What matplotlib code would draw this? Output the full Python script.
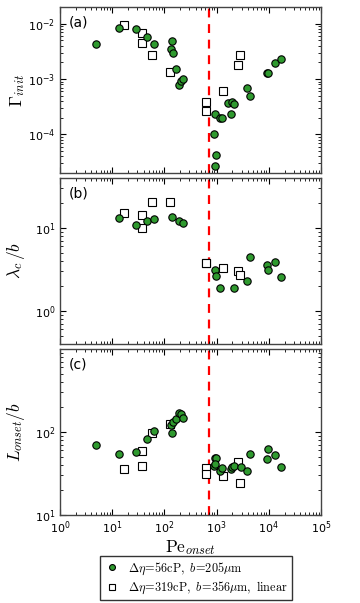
import numpy as np
import matplotlib
matplotlib.use('Agg')
import matplotlib.pyplot as plt
from matplotlib.ticker import LogLocator, NullFormatter

plt.rcParams['mathtext.fontset'] = 'cm'
plt.rcParams['font.family'] = 'DejaVu Sans'

# Pe_onset threshold (red dashed line)
pe_crit = 700

# ---- panel (a): Gamma_init ----
a_green_x = [4.9, 13.7, 28, 47, 63, 138, 136, 146, 167, 190, 211, 231,
             918, 879, 975, 931, 1178, 1288, 1680, 2000, 2153, 1916,
             3770, 4365, 9100, 9660, 13150, 16870]
a_green_y = [4.3e-3, 8.2e-3, 8.1e-3, 5.7e-3, 4.3e-3, 4.8e-3, 3.5e-3, 2.9e-3, 1.5e-3, 7.8e-4, 9.3e-4, 1.0e-3,
             2.3e-4, 1.0e-4, 4.2e-5, 2.7e-5, 2.0e-4, 2.0e-4, 3.7e-4, 3.9e-4, 3.6e-4, 2.3e-4,
             6.8e-4, 4.9e-4, 1.27e-3, 1.28e-3, 1.93e-3, 2.34e-3]
a_sq_x = [16.6, 38, 37, 59, 126, 617, 617, 1327, 2535, 2806]
a_sq_y = [9.3e-3, 6.7e-3, 4.45e-3, 2.77e-3, 1.36e-3, 3.9e-4, 2.65e-4, 6.0e-4, 1.77e-3, 2.73e-3]

# ---- panel (b): lambda_c / b ----
b_green_x = [13.7, 28, 47, 63, 140, 190, 231, 918, 988, 1178, 2124, 3770, 4365, 9100, 9500, 13150, 16870]
b_green_y = [13.1, 10.8, 12.2, 12.8, 13.6, 12.2, 11.5, 3.08, 2.65, 1.87, 1.91, 2.31, 4.49, 3.63, 3.08, 3.91, 2.56]
b_sq_x = [16.6, 37, 38, 59, 128, 617, 630, 1327, 2535, 2806]
b_sq_y = [15.0, 14.5, 9.9, 20.3, 20.3, 3.8, 3.8, 3.28, 3.02, 2.75]

# ---- panel (c): L_onset / b ----
c_green_x = [4.9, 13.7, 28, 47, 63, 138, 136, 146, 167, 190, 211, 231,
             918, 990, 879, 931, 1178, 1288, 1916, 2000, 2153, 2950,
             3770, 4365, 9100, 9500, 13150, 16870]
c_green_y = [68.9, 53.6, 58.2, 83, 102, 98, 120, 131, 145, 170, 164, 148,
             49, 49, 39, 41.6, 34.2, 36.5, 35.5, 38.3, 38.6, 38,
             33.6, 55, 47.5, 61.6, 52.6, 37.5]
c_sq_x = [16.6, 37, 38, 59, 126, 617, 617, 1327, 2535, 2806]
c_sq_y = [35.9, 58.7, 39, 96, 125, 36.5, 31.5, 29.2, 43.3, 24.3]

panels = [
    ('(a)', r'$\Gamma_{init}$', (2e-5, 2e-2), [1e-4, 1e-3, 1e-2],
     a_green_x, a_green_y, a_sq_x, a_sq_y),
    ('(b)', r'$\lambda_c\,/b$', (0.4, 40), [1, 10],
     b_green_x, b_green_y, b_sq_x, b_sq_y),
    ('(c)', r'$L_{onset}/b$', (10, 1000), [10, 100],
     c_green_x, c_green_y, c_sq_x, c_sq_y),
]

fig = plt.figure(figsize=(3.6, 6.03), dpi=100)
bottoms = [0.7131, 0.4295, 0.1459]
green = '#2f9a2f'

for i, (tag, ylab, ylim, yt, gx, gy, sx, sy) in enumerate(panels):
    ax = fig.add_axes([0.1667, bottoms[i], 0.725, 0.2753])
    ax.set_xscale('log')
    ax.set_yscale('log')
    ax.axvline(pe_crit, color='red', ls='--', lw=1.6, dashes=(4, 3), zorder=1)
    ax.plot(gx, gy, 'o', mfc=green, mec='black', mew=0.8, ms=5.3, zorder=3,
            label=r'$\Delta\eta\!=\!56\mathrm{cP},\ b\!=\!205\mu\mathrm{m}$')
    ax.plot(sx, sy, 's', mfc='white', mec='black', mew=0.8, ms=5.3, zorder=2,
            label=r'$\Delta\eta\!=\!319\mathrm{cP},\ b\!=\!356\mu\mathrm{m},\ \mathrm{linear}$')
    ax.set_xlim(1, 1e5)
    ax.set_ylim(*ylim)
    ax.set_yticks(yt)
    ax.yaxis.set_minor_locator(LogLocator(base=10, subs=np.arange(2, 10), numticks=20))
    ax.yaxis.set_minor_formatter(NullFormatter())
    ax.xaxis.set_minor_locator(LogLocator(base=10, subs=np.arange(2, 10), numticks=20))
    ax.xaxis.set_minor_formatter(NullFormatter())
    ax.tick_params(which='both', direction='in', top=True, right=True, labelsize=8)
    ax.tick_params(which='major', length=4)
    ax.tick_params(which='minor', length=2)
    for sp in ax.spines.values():
        sp.set_color('#444444')
        sp.set_linewidth(1.0)
    ax.set_ylabel(ylab, fontsize=12.5)
    ax.yaxis.set_label_coords(-0.125, 0.5)
    ax.text(0.035, 0.95, tag, transform=ax.transAxes, fontsize=10, va='top', ha='left')
    if i < 2:
        ax.tick_params(labelbottom=False)
    else:
        ax.set_xticks([1, 10, 100, 1e3, 1e4, 1e5])
        ax.set_xlabel(r'$\mathrm{Pe}_{onset}$', fontsize=12.5, labelpad=1)
        handles, labels = ax.get_legend_handles_labels()

fig.legend(handles, labels, loc='center', bbox_to_anchor=(0.544, 0.041),
           fontsize=8.8, frameon=True, fancybox=False, edgecolor='black',
           handletextpad=0.6, borderpad=0.35, labelspacing=0.25, handlelength=1.3,
           borderaxespad=0, markerscale=0.8)

fig.savefig('out.png', dpi=100)
